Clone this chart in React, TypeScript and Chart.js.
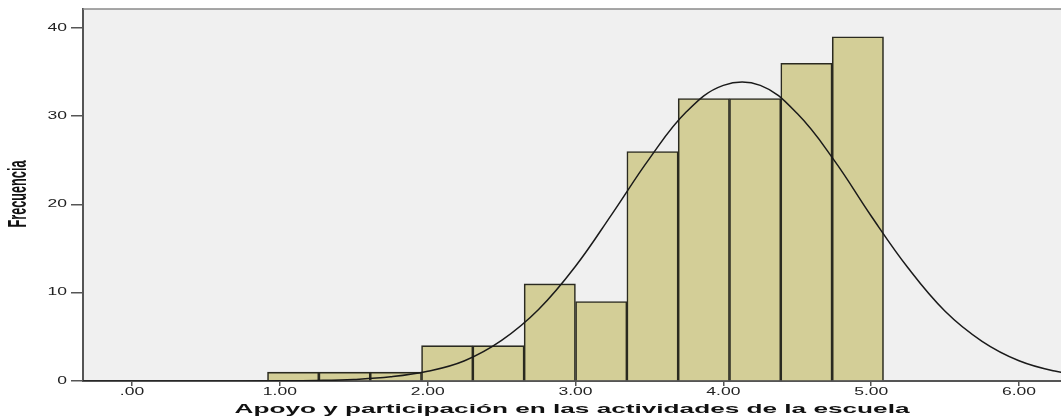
import React, { useEffect, useRef } from "react";
import { Chart, registerables } from "chart.js";

Chart.register(...registerables);

// Histogram bins (bin centres) and frequencies
const binCenters = [1.090, 1.438, 1.785, 2.132, 2.479, 2.826, 3.174, 3.521, 3.868, 4.215, 4.562, 4.910];
const frequencies = [1, 1, 1, 4, 4, 11, 9, 26, 32, 32, 36, 39];

// Normal curve
const curveX = [-0.5, 0, 0.5, 1.0, 1.25, 1.5, 1.75, 2.0, 2.25, 2.5, 2.75, 3.0, 3.25, 3.5, 3.75, 4.0, 4.25, 4.5, 4.75, 5.0, 5.25, 5.5, 5.75, 6.0, 6.25, 6.5];
const curveY = [0, 0, 0, 0.02, 0.06, 0.18, 0.47, 1.1, 2.3, 4.6, 8.1, 13.0, 19.0, 25.2, 30.5, 33.5, 33.5, 30.3, 25.0, 18.7, 12.8, 7.9, 4.5, 2.3, 1.1, 0.45];

const xTickValues = [0, 1, 2, 3, 4, 5, 6];
const yTickValues = [0, 10, 20, 30, 40];

const xTitle = "Apoyo y participación en las actividades de la escuela";
const yTitle = "Frecuencia";

const fmtX = (v: number) => (v === 0 ? ".00" : v.toFixed(2));

export default function App() {
  const ref = useRef<HTMLCanvasElement | null>(null);

  useEffect(() => {
    const canvas = ref.current;
    if (!canvas) return;

    const decor = {
      id: "decor",
      beforeDraw(chart: any) {
        const { ctx, chartArea } = chart;
        ctx.save();
        ctx.fillStyle = "#f0f0f0";
        ctx.fillRect(chartArea.left, chartArea.top, chartArea.right - chartArea.left, chartArea.bottom - chartArea.top);
        ctx.restore();
      },
      afterDraw(chart: any) {
        const { ctx, chartArea, scales } = chart;
        ctx.save();
        // top border
        ctx.strokeStyle = "#8a8a8a";
        ctx.lineWidth = 1.5;
        ctx.beginPath();
        ctx.moveTo(chartArea.left, chartArea.top);
        ctx.lineTo(chartArea.right, chartArea.top);
        ctx.stroke();

        const sx = 1.75;
        ctx.fillStyle = "#222";
        ctx.font = "10px 'Liberation Sans', Arial, sans-serif";
        ctx.textBaseline = "middle";
        // y tick labels
        ctx.textAlign = "right";
        scales.y.ticks.forEach((t: any) => {
          const y = scales.y.getPixelForValue(t.value);
          ctx.save();
          ctx.translate(67, y);
          ctx.scale(sx, 1);
          ctx.fillText(String(t.value), 0, 0);
          ctx.restore();
        });
        // x tick labels
        ctx.textAlign = "center";
        scales.x.ticks.forEach((t: any) => {
          const x = scales.x.getPixelForValue(t.value);
          ctx.save();
          ctx.translate(x, 392);
          ctx.scale(sx, 1);
          ctx.fillText(fmtX(t.value), 0, 0);
          ctx.restore();
        });
        // x title
        ctx.fillStyle = "#111";
        ctx.font = "bold 12.5px 'Liberation Sans', Arial, sans-serif";
        const w = ctx.measureText(xTitle).width;
        const s2 = 675 / w;
        ctx.save();
        ctx.translate((chartArea.left + chartArea.right) / 2, 410);
        ctx.scale(s2, 1);
        ctx.textAlign = "center";
        ctx.fillText(xTitle, 0, 0);
        ctx.restore();
        // y title
        ctx.font = "bold 12.5px 'Liberation Sans', Arial, sans-serif";
        const w2 = ctx.measureText(yTitle).width;
        ctx.save();
        ctx.translate(19, (chartArea.top + chartArea.bottom) / 2 - 1);
        ctx.scale(2.0, 67 / w2);
        ctx.rotate(-Math.PI / 2);
        ctx.textAlign = "center";
        ctx.fillText(yTitle, 0, 0);
        ctx.restore();
        ctx.restore();
      },
    };

    const chart = new Chart(canvas, {
      type: "bar",
      data: {
        datasets: [
          {
            type: "line",
            data: curveX.map((x, i) => ({ x, y: curveY[i] })),
            borderColor: "#1a1a1a",
            borderWidth: 1.5,
            pointRadius: 0,
            tension: 0.4,
            fill: false,
            order: 0,
          } as any,
          {
            type: "bar",
            data: binCenters.map((x, i) => ({ x, y: frequencies[i] })),
            backgroundColor: "#d3ce97",
            borderColor: "#2a2a20",
            borderWidth: 1.6,
            barPercentage: 1,
            categoryPercentage: 1,
            order: 1,
          } as any,
        ],
      },
      options: {
        responsive: false,
        animation: false,
        layout: { padding: { top: 9, left: 0, right: 0, bottom: 0 } },
        plugins: { legend: { display: false }, tooltip: { enabled: false } },
        scales: {
          x: {
            type: "linear",
            min: -0.3315,
            max: 6.284,
            offset: false,
            afterBuildTicks: (s: any) => {
              s.ticks = xTickValues.map((v) => ({ value: v }));
            },
            afterFit: (s: any) => {
              s.height = 39;
            },
            ticks: { display: false },
            grid: { display: true, offset: false, drawOnChartArea: false, drawTicks: true, tickLength: 5, color: "#555", lineWidth: 1.5 },
            border: { display: true, color: "#555", width: 2 },
          },
          y: {
            type: "linear",
            min: 0,
            max: 42.15,
            afterBuildTicks: (s: any) => {
              s.ticks = yTickValues.map((v) => ({ value: v }));
            },
            afterFit: (s: any) => {
              s.width = 83;
            },
            ticks: { display: false },
            grid: { display: true, offset: false, drawOnChartArea: false, drawTicks: true, tickLength: 12, color: "#555", lineWidth: 1.5 },
            border: { display: true, color: "#555", width: 2 },
          },
        },
      } as any,
      plugins: [decor],
    });

    return () => chart.destroy();
  }, []);

  return (
    <div style={{ position: "absolute", left: 0, top: 0, width: 1061, height: 420, background: "#fff" }}>
      <canvas ref={ref} width={1061} height={420} style={{ display: "block" }} />
    </div>
  );
}
